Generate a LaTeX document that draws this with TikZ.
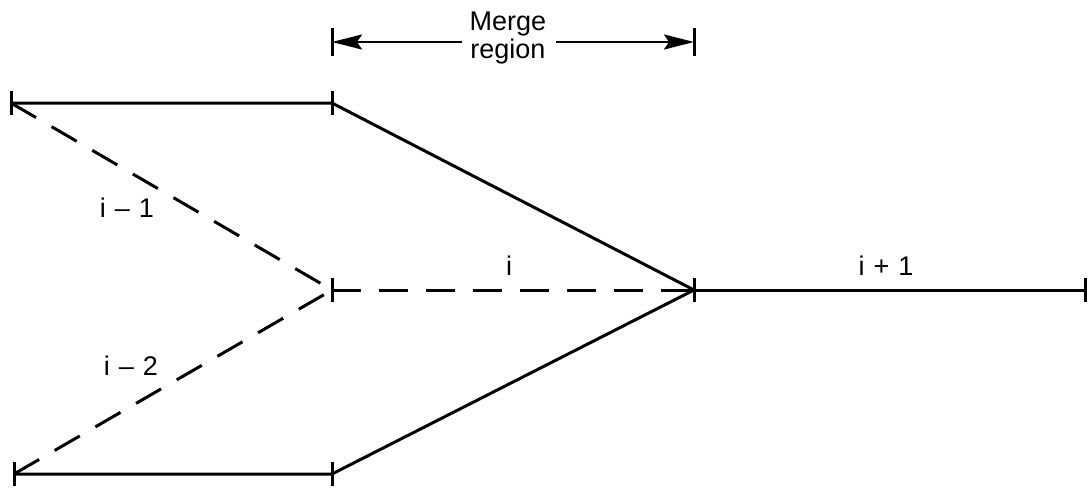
\documentclass[tikz,border=0pt]{standalone}
\usepackage{fontspec}
\setmainfont{Liberation Sans}
\usetikzlibrary{arrows.meta,calc}
\begin{document}
\begin{tikzpicture}[x=1pt,y=-1pt,
  seg/.style={line width=3pt},
  dseg/.style={line width=3pt, dash pattern=on 29pt off 18pt},
  tickbar/.style={line width=3pt},
  lbl/.style={font=\fontsize{27}{28}\selectfont, inner sep=0pt},
  dimarrow/.style={line width=2.2pt, -{Stealth[length=30pt,width=15pt,inset=5pt]}}
]
\useasboundingbox (0,0) rectangle (1088,493);
% points
\coordinate (TL) at (11,103);
\coordinate (TM) at (332,103);
\coordinate (ML) at (332,290);
\coordinate (MP) at (694,290);
\coordinate (RE) at (1085,290);
\coordinate (BL) at (14,474);
\coordinate (BM) at (332,474);
% solid lines
\draw[seg] (TL) -- (TM) -- (MP);
\draw[seg] (BL) -- (BM) -- (MP);
\draw[seg] (MP) -- (RE);
% dashed lines
\draw[dseg] (TL) -- (ML);
\draw[dseg] (BL) -- (ML);
\draw[dseg] (ML) -- (MP);
% ticks
\foreach \p in {TL,TM,ML,MP,RE,BL,BM}
  \draw[tickbar] ($(\p)+(0,-12)$) -- ($(\p)+(0,12)$);
% merge region dimension
\coordinate (ML0) at (332,42);
\coordinate (MR0) at (694,42);
\draw[tickbar] (332,28) -- (332,56);
\draw[tickbar] (694,28) -- (694,56);
\node[lbl, align=center] (mr) at (508,38) {Merge\\region};
\coordinate (ga) at (462,42);
\coordinate (gb) at (556,42);
\draw[dimarrow] (ga) -- (ML0);
\draw[dimarrow] (gb) -- (MR0);
% labels
\node[lbl] (l1) at (127,208) {i\,\,–\,\,1};
\node[lbl] (l2) at (131,366) {i\,\,–\,\,2};
\node[lbl] (li) at (509,266) {i};
\node[lbl] (li1) at (886,266) {i\,\,+\,\,1};
\end{tikzpicture}
\end{document}
